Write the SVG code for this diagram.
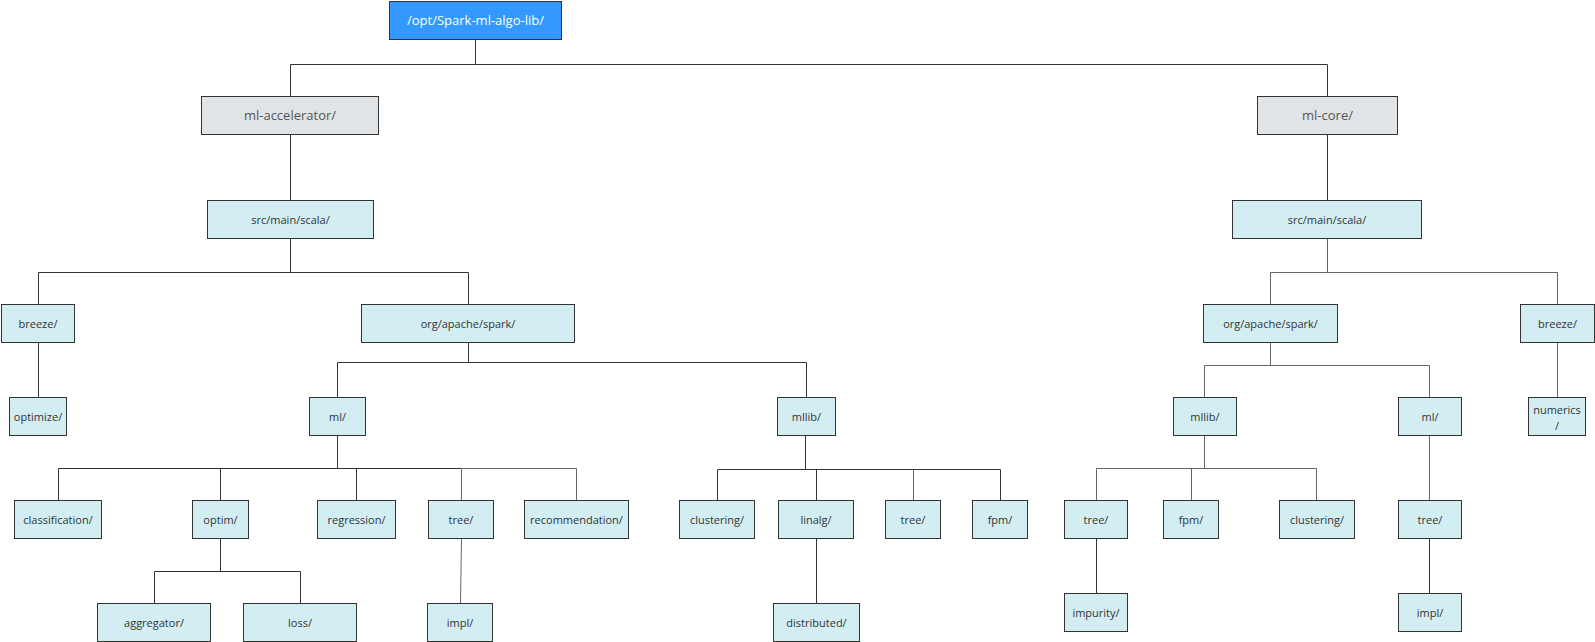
<svg xmlns="http://www.w3.org/2000/svg" width="1595" height="642" viewBox="0 0 1595 642">
<style>
.n rect{fill:#d2eef3;stroke:#333;stroke-width:1}
.n text{font-family:"Open Sans","Noto Sans",sans-serif;font-size:11px;fill:#333;text-anchor:middle}
.g rect{fill:#e1e4e6}
.g text{font-size:13px;fill:#555}
.r rect{fill:#3399ff}
.r text{font-size:13px;fill:#fff}
.c path{fill:none;stroke:#333;stroke-width:1}
.c path.l{stroke:#666}
</style>
<rect width="1595" height="642" fill="#fff"/>
<g class="c" id="connectors">
<path d="M475.5 39.5V64.5M290.5 96.5V64.5H1327.5V96.5"/>
<path d="M290.5 134.5V200.5"/>
<path d="M290.5 238.5V272.5M38.5 304.5V272.5H468.5V304.5"/>
<path d="M38.5 342.5V397.5"/>
<path d="M468.5 342.5V362.5M337.5 397.5V362.5H806.5V397.5"/>
<path d="M337.5 435.5V468.5M58.5 500.5V468.5H461.5M220.5 468.5V500.5M356.5 468.5V500.5"/>
<path class="l" d="M461.5 500.5V468.5H576.5V500.5"/>
<path d="M220.5 538.5V571.5M154.5 603.5V571.5H300.5V603.5"/>
<path class="l" d="M461.5 538.5L460.5 603.5"/>
<path d="M805.5 435.5V469.5M717.5 500.5V469.5H1000.5V500.5M816.5 469.5V500.5"/>
<path class="l" d="M913.5 469.5V500.5"/>
<path d="M816.5 538.5V603.5"/>
<path d="M1327.5 134.5V200.5"/>
<path class="l" d="M1327.5 238.5V272.5M1270.5 304.5V272.5H1557.5V304.5"/>
<path class="l" d="M1270.5 342.5V365.5M1204.5 397.5V365.5H1429.5V397.5"/>
<path class="l" d="M1557.5 342.5V397.5"/>
<path class="l" d="M1204.5 435.5V468.5M1096.5 500.5V468.5H1316.5V500.5M1191.5 468.5V500.5"/>
<path d="M1096.5 538.5V593.5"/>
<path class="l" d="M1429.5 435.5V500.5"/>
<path d="M1429.5 538.5V593.5"/>
</g>
<g class="n r" id="root"><rect x="389.5" y="1.5" width="172" height="38"/><text x="475.5" y="25">/opt/Spark-ml-algo-lib/</text></g>
<g class="n g" id="ml-accelerator"><rect x="201.5" y="96.5" width="177" height="38"/><text x="290" y="120">ml-accelerator/</text></g>
<g class="n g" id="ml-core"><rect x="1257.5" y="96.5" width="140" height="38"/><text x="1327.5" y="120">ml-core/</text></g>
<g class="n" id="src-l"><rect x="207.5" y="200.5" width="166" height="38"/><text x="290.5" y="223.5">src/main/scala/</text></g>
<g class="n" id="src-r"><rect x="1232.5" y="200.5" width="189" height="38"/><text x="1327" y="223.5">src/main/scala/</text></g>
<g class="n" id="breeze-l"><rect x="1.5" y="304.5" width="73" height="38"/><text x="38" y="327.5">breeze/</text></g>
<g class="n" id="org-l"><rect x="361.5" y="304.5" width="213" height="38"/><text x="468" y="327.5">org/apache/spark/</text></g>
<g class="n" id="org-r"><rect x="1203.5" y="304.5" width="134" height="38"/><text x="1270.5" y="327.5">org/apache/spark/</text></g>
<g class="n" id="breeze-r"><rect x="1520.5" y="304.5" width="74" height="38"/><text x="1557.5" y="327.5">breeze/</text></g>
<g class="n" id="optimize"><rect x="9.5" y="397.5" width="57" height="38"/><text x="38" y="420.5">optimize/</text></g>
<g class="n" id="ml-l"><rect x="309.5" y="397.5" width="56" height="38"/><text x="337.5" y="420.5">ml/</text></g>
<g class="n" id="mllib-l"><rect x="777.5" y="397.5" width="58" height="38"/><text x="806.5" y="420.5">mllib/</text></g>
<g class="n" id="mllib-r"><rect x="1173.5" y="397.5" width="63" height="38"/><text x="1205" y="420.5">mllib/</text></g>
<g class="n" id="ml-r"><rect x="1398.5" y="397.5" width="63" height="38"/><text x="1430" y="420.5">ml/</text></g>
<g class="n" id="numerics"><rect x="1528.5" y="397.5" width="57" height="38"/><text x="1557" y="414">numerics</text><text x="1557" y="430">/</text></g>
<g class="n" id="classification"><rect x="14.5" y="500.5" width="87" height="38"/><text x="58" y="523.5">classification/</text></g>
<g class="n" id="optim"><rect x="192.5" y="500.5" width="56" height="38"/><text x="220.5" y="523.5">optim/</text></g>
<g class="n" id="regression"><rect x="317.5" y="500.5" width="78" height="38"/><text x="356.5" y="523.5">regression/</text></g>
<g class="n" id="tree-ml-l"><rect x="428.5" y="500.5" width="65" height="38"/><text x="461" y="523.5">tree/</text></g>
<g class="n" id="recommendation"><rect x="524.5" y="500.5" width="104" height="38"/><text x="576.5" y="523.5">recommendation/</text></g>
<g class="n" id="clustering-l"><rect x="679.5" y="500.5" width="75" height="38"/><text x="717" y="523.5">clustering/</text></g>
<g class="n" id="linalg"><rect x="778.5" y="500.5" width="75" height="38"/><text x="816" y="523.5">linalg/</text></g>
<g class="n" id="tree-mllib-l"><rect x="885.5" y="500.5" width="55" height="38"/><text x="913" y="523.5">tree/</text></g>
<g class="n" id="fpm-l"><rect x="972.5" y="500.5" width="55" height="38"/><text x="1000" y="523.5">fpm/</text></g>
<g class="n" id="tree-mllib-r"><rect x="1064.5" y="500.5" width="63" height="38"/><text x="1096" y="523.5">tree/</text></g>
<g class="n" id="fpm-r"><rect x="1163.5" y="500.5" width="55" height="38"/><text x="1191" y="523.5">fpm/</text></g>
<g class="n" id="clustering-r"><rect x="1279.5" y="500.5" width="75" height="38"/><text x="1317" y="523.5">clustering/</text></g>
<g class="n" id="tree-ml-r"><rect x="1398.5" y="500.5" width="63" height="38"/><text x="1430" y="523.5">tree/</text></g>
<g class="n" id="aggregator"><rect x="97.5" y="603.5" width="113" height="38"/><text x="154" y="626.5">aggregator/</text></g>
<g class="n" id="loss"><rect x="243.5" y="603.5" width="113" height="38"/><text x="300" y="626.5">loss/</text></g>
<g class="n" id="impl-l"><rect x="427.5" y="603.5" width="65" height="38"/><text x="460" y="626.5">impl/</text></g>
<g class="n" id="distributed"><rect x="773.5" y="603.5" width="86" height="38"/><text x="816.5" y="626.5">distributed/</text></g>
<g class="n" id="impurity"><rect x="1064.5" y="593.5" width="63" height="38"/><text x="1096" y="616.5">impurity/</text></g>
<g class="n" id="impl-r"><rect x="1398.5" y="593.5" width="63" height="38"/><text x="1430" y="616.5">impl/</text></g>
</svg>
